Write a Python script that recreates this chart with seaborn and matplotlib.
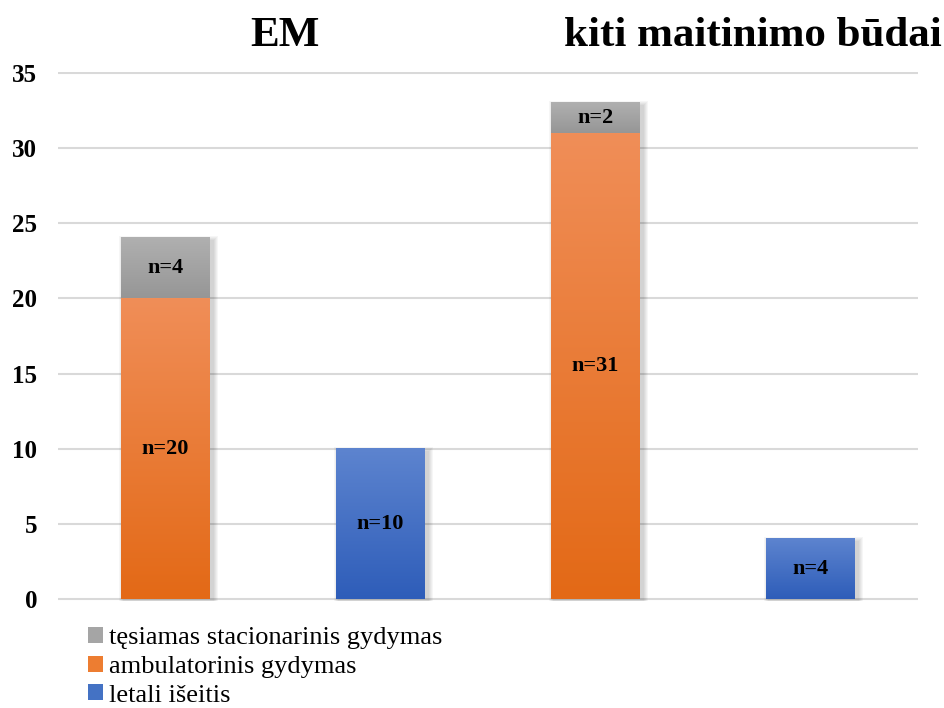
import numpy as np
import pandas as pd
import matplotlib
matplotlib.use("Agg")
import matplotlib.pyplot as plt
from matplotlib.colors import LinearSegmentedColormap, to_rgb
from matplotlib.patches import Patch, Rectangle
import seaborn as sns

# Bar slots: two per feeding group (survivors stacked, deaths separate)
slots = ["EM_gyvi", "EM_mire", "kiti_gyvi", "kiti_mire"]
group_titles = ["EM", "kiti maitinimo būdai"]
stacionarinis = [4, 0, 2, 0]
ambulatorinis = [20, 0, 31, 0]
letali = [0, 10, 0, 4]
series_names = ["tęsiamas stacionarinis gydymas", "ambulatorinis gydymas", "letali išeitis"]
yticks = [0, 5, 10, 15, 20, 25, 30, 35]

base_colors = {"stac": "#A5A5A5", "amb": "#ED7D31", "let": "#4472C4"}
grad_colors = {
    "stac": ("#969696", "#B0B0B0"),
    "amb": ("#E36916", "#F08E58"),
    "let": ("#2E5DB9", "#5D84CF"),
}

sns.set_theme(style="white")
plt.rcParams["font.family"] = ["Liberation Serif", "DejaVu Serif"]
plt.rcParams["text.color"] = "black"
plt.rcParams["ytick.labelcolor"] = "black"

fig = plt.figure(figsize=(9.44, 7.08), dpi=100)
ax = fig.add_axes([58 / 944, 1 - 600.5 / 708, 860 / 944, 529 / 708])
ax.set_xlim(-0.5, 3.5)
ax.set_ylim(-0.1, 35.1)
px_x = 4.0 / 860      # data units per pixel, horizontal
px_y = 35.2 / 529     # data units per pixel, vertical

df = pd.DataFrame({
    "slot": slots,
    "stac": stacionarinis,
    "amb": ambulatorinis,
    "let": letali,
})
df["stac_top"] = df["stac"] + df["amb"]


def soft_shadow(x0, x1, y0, y1):
    # layered translucent rectangles give a blurred drop shadow
    for k in range(1, 6):
        ax.add_patch(Rectangle((x0 + (3 - k) * px_x, y0 - (2 + k) * px_y),
                               (x1 - x0) + 2 * k * px_x, (y1 - y0) + (2 * k - 1) * px_y,
                               facecolor="black", edgecolor="none", alpha=0.035,
                               zorder=1.5))


layers = [("stac", "stac_top", "amb"), ("amb", "amb", None), ("let", "let", None)]
for key, col, bottom_col in layers:
    before = len(ax.patches)
    sns.barplot(data=df, x="slot", y=col, order=slots, color=base_colors[key],
                width=0.41, ax=ax, saturation=1, zorder=2, edgecolor="none", linewidth=0)
    new = ax.patches[before:]
    cmap = LinearSegmentedColormap.from_list(key, [to_rgb(c) for c in grad_colors[key]])
    for i, p in enumerate(new):
        h = p.get_height()
        if h <= 0:
            p.set_visible(False)
            continue
        x0 = p.get_x()
        x1 = x0 + p.get_width()
        y1 = p.get_y() + h
        y0 = df[bottom_col].iloc[i] if bottom_col else p.get_y()
        if key != "amb" or df["stac"].iloc[i] == 0:
            soft_shadow(x0, x1, p.get_y(), y1)
        grad = np.linspace(0, 1, 256).reshape(-1, 1)
        ax.imshow(grad, cmap=cmap, origin="lower", aspect="auto",
                  extent=[x0, x1, y0, y1], zorder=3, interpolation="bilinear")
        seg_val = y1 - y0
        ax.text((x0 + x1) / 2, (y0 + y1) / 2, f"n={int(round(seg_val))}",
                ha="center", va="center", fontsize=16, fontweight="bold",
                color="black", zorder=5)

ax.set_xlim(-0.5, 3.5)
ax.set_ylim(-0.1, 35.1)
ax.set_yticks(yticks)
ax.set_yticklabels([str(t) for t in yticks], fontsize=18, fontweight="bold")
ax.tick_params(axis="y", length=0, pad=15)
ax.set_xticks([])
ax.set_xlabel("")
ax.set_ylabel("")
ax.grid(axis="y", color="#D9D9D9", linewidth=1.5, zorder=0)
ax.set_axisbelow(True)
for s in ax.spines.values():
    s.set_visible(False)

fig.text(285 / 944, 1 - 36 / 708, group_titles[0], ha="center", va="center",
         fontsize=31, fontweight="bold")
fig.text(753 / 944, 1 - 36 / 708, group_titles[1], ha="center", va="center",
         fontsize=31, fontweight="bold")

handles = [Patch(facecolor=base_colors[k], edgecolor="none") for k in ["stac", "amb", "let"]]
fig.legend(handles, series_names, loc="upper left", bbox_to_anchor=(88 / 944, 1 - 627 / 708),
           frameon=False, fontsize=19, handlelength=0.55, handleheight=0.55,
           handletextpad=0.25, labelspacing=0.24, borderaxespad=0, borderpad=0)

fig.savefig("out.png", dpi=100)
